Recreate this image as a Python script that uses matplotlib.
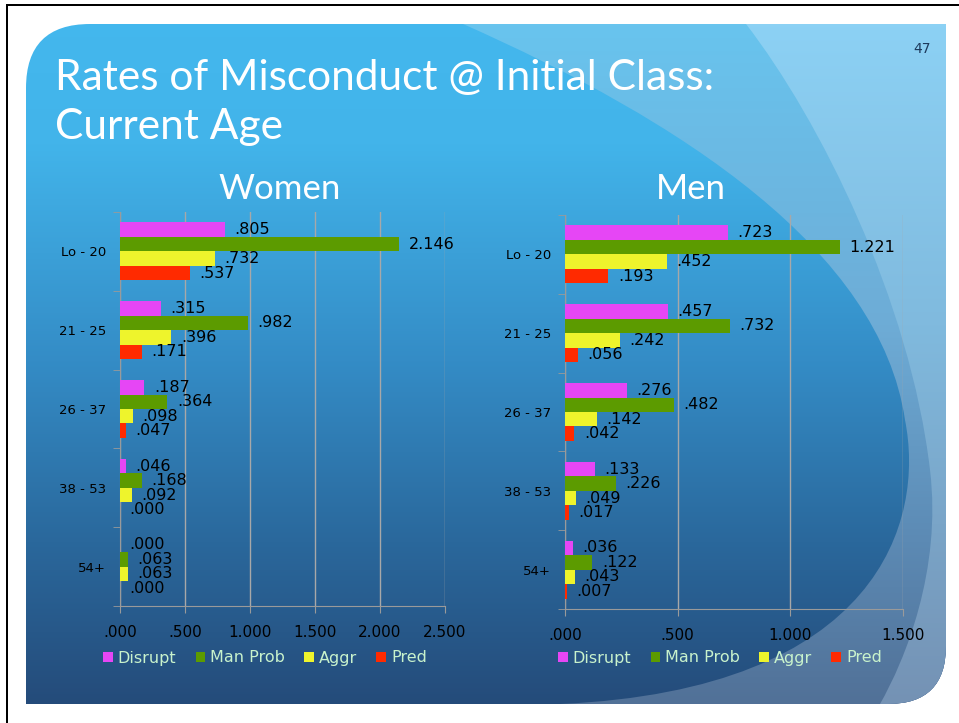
import numpy as np
import matplotlib
matplotlib.use("Agg")
import matplotlib.pyplot as plt
from matplotlib.path import Path
from matplotlib.patches import PathPatch, Rectangle

# data
ages = ["Lo - 20", "21 - 25", "26 - 37", "38 - 53", "54+"]
series = ["Disrupt", "Man Prob", "Aggr", "Pred"]

women_disrupt = [0.805, 0.315, 0.187, 0.046, 0.000]
women_manprob = [2.146, 0.982, 0.364, 0.168, 0.063]
women_aggr = [0.732, 0.396, 0.098, 0.092, 0.063]
women_pred = [0.537, 0.171, 0.047, 0.000, 0.000]

men_disrupt = [0.723, 0.457, 0.276, 0.133, 0.036]
men_manprob = [1.221, 0.732, 0.482, 0.226, 0.122]
men_aggr = [0.452, 0.242, 0.142, 0.049, 0.043]
men_pred = [0.193, 0.056, 0.042, 0.017, 0.007]

women_ticks = [0.0, 0.5, 1.0, 1.5, 2.0, 2.5]
men_ticks = [0.0, 0.5, 1.0, 1.5]

colors = ["#e646f5", "#5c9b00", "#eef42c", "#ff2a00"]
TITLE_FONT = ["Lato", "DejaVu Sans"]

W, H = 959, 723


def fmt(v):
    s = f"{v:.3f}"
    return s[1:] if s.startswith("0") else s


def gradient(stops, n=400):
    # stops: list of (frac, (r, g, b))
    t = np.linspace(0, 1, n)
    fr = [s[0] for s in stops]
    img = np.zeros((n, 1, 3))
    for k in range(3):
        img[:, 0, k] = np.interp(t, fr, [s[1][k] / 255 for s in stops])
    return img


def draw_gradient(ax, path, stops):
    patch = PathPatch(path, fc="none", ec="none")
    ax.add_patch(patch)
    im = ax.imshow(gradient(stops), extent=[0, W, H, 0], aspect="auto",
                   interpolation="bilinear", zorder=1)
    im.set_clip_path(patch)


fig = plt.figure(figsize=(W / 100, H / 100), dpi=100)
fig.patch.set_facecolor("white")

bg = fig.add_axes([0, 0, 1, 1], zorder=0)
bg.set_xlim(0, W)
bg.set_ylim(H, 0)
bg.axis("off")

# slide panel: rounded top-left and bottom-right corners
L, T, R, B = 26, 24, 946, 704
r1, r2 = 64, 58
M, C3, C4, LT, CL = Path.MOVETO, Path.CURVE3, Path.CURVE4, Path.LINETO, Path.CLOSEPOLY
panel = Path(
    [(L, B), (L, T + r1), (L, T), (L + r1, T), (R, T), (R, B - r2), (R, B), (R - r2, B), (L, B)],
    [M, LT, C3, C3, LT, LT, C3, C3, CL])
draw_gradient(bg, panel, [(0, (68, 184, 238)), (0.2, (66, 180, 234)),
                          (0.5, (52, 140, 198)), (0.75, (42, 104, 156)),
                          (1.0, (36, 72, 118))])

# lighter swoosh regions on the right
swoosh_a = Path(
    [(463, T), (680, 120), (880, 250), (905, 420), (925, 520), (880, 690), (560, B),
     (R - r2, B), (R, B), (R, B - r2), (R, T), (463, T)],
    [M, C4, C4, C4, C4, C4, C4, LT, C3, C3, LT, CL])
draw_gradient(bg, swoosh_a, [(0, (104, 198, 240)), (0.45, (110, 172, 214)),
                             (0.75, (92, 138, 180)), (1.0, (80, 110, 148))])

swoosh_b = Path(
    [(746, T), (820, 120), (910, 300), (930, 470), (942, 570), (905, 660), (880, B),
     (R - r2, B), (R, B), (R, B - r2), (R, T), (746, T)],
    [M, C4, C4, C4, C4, C4, C4, LT, C3, C3, LT, CL])
draw_gradient(bg, swoosh_b, [(0, (141, 211, 246)), (0.45, (128, 186, 222)),
                             (1.0, (116, 144, 178))])

# black frame lines
bg.add_patch(Rectangle((6, 4), W, 2, fc="black", ec="none", zorder=3))
bg.add_patch(Rectangle((6, 4), 2, H, fc="black", ec="none", zorder=3))

# titles
bg.text(55, 90, "Rates of Misconduct @ Initial Class:", fontsize=30.5, color="white",
        family=TITLE_FONT, va="baseline", ha="left", zorder=4)
bg.text(55, 139, "Current Age", fontsize=30.5, color="white",
        family=TITLE_FONT, va="baseline", ha="left", zorder=4)
bg.text(280, 199, "Women", fontsize=25, color="white",
        family=TITLE_FONT, va="baseline", ha="center", zorder=4)
bg.text(691, 199, "Men", fontsize=25, color="white",
        family=TITLE_FONT, va="baseline", ha="center", zorder=4)
bg.text(922, 53, "47", fontsize=10, color="#1e3a5c", va="baseline", ha="center", zorder=4)


def bar_chart(px_box, values, xmax, ticks, legend_center):
    x0, y0, x1, y1 = px_box
    ax = fig.add_axes([x0 / W, 1 - y1 / H, (x1 - x0) / W, (y1 - y0) / H], zorder=2)
    ax.patch.set_alpha(0)
    pos = np.arange(len(ages))
    h = 0.184
    for i, (name, vals) in enumerate(zip(series, values)):
        yy = pos - 1.5 * h + i * h
        ax.barh(yy, vals, height=h, color=colors[i], label=name, zorder=3)
        for y, v in zip(yy, vals):
            ax.annotate(fmt(v), (v, y), xytext=(6.8, 0), textcoords="offset points",
                        va="center", ha="left", fontsize=11.5, color="black", zorder=4)
    ax.set_xlim(0, xmax)
    ax.set_ylim(len(ages) - 0.5, -0.5)
    ax.set_xticks(ticks)
    ax.set_xticklabels([fmt(t) for t in ticks], fontsize=11, color="black")
    ax.set_yticks(pos)
    ax.set_yticklabels(ages, fontsize=9.5, color="black")
    ax.set_yticks(np.arange(len(ages) + 1) - 0.5, minor=True)
    ax.tick_params(axis="y", which="major", length=0, pad=10)
    ax.tick_params(axis="y", which="minor", length=5, color="#9a9a9a", direction="out")
    ax.tick_params(axis="x", length=5, color="#9a9a9a", direction="out", pad=9)
    ax.grid(axis="x", color="#a8a8a8", lw=1, zorder=1)
    for s in ["top", "right"]:
        ax.spines[s].set_visible(False)
    for s in ["left", "bottom"]:
        ax.spines[s].set_color("#9a9a9a")
    leg = ax.legend(loc="center", bbox_to_anchor=(legend_center[0] / W, 1 - legend_center[1] / H),
                    bbox_transform=fig.transFigure, ncol=4, frameon=False, fontsize=11.5,
                    handlelength=0.62, handleheight=0.62, handletextpad=0.3,
                    columnspacing=1.2, borderaxespad=0)
    for t in leg.get_texts():
        t.set_color("#c8f2cc")
    return ax


bar_chart((120, 212, 445, 606),
          [women_disrupt, women_manprob, women_aggr, women_pred],
          2.5, women_ticks, (265, 658))
bar_chart((565, 215, 903, 609),
          [men_disrupt, men_manprob, men_aggr, men_pred],
          1.5, men_ticks, (720, 658))

fig.savefig("out.png", dpi=100)
